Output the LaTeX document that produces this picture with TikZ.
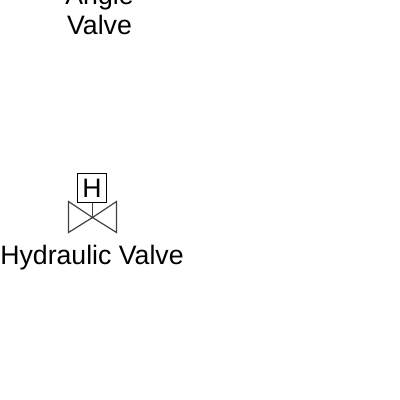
\documentclass[tikz,border=0pt]{standalone}
\usepackage{fontspec}
\setmainfont{Liberation Sans}
\tikzset{
	label text/.style = {font=\fontsize{26.67}{30}\selectfont, inner sep=0pt},
	actuator/.style = {draw, line width=1.2pt, minimum size=29.5pt, inner sep=0pt, font=\fontsize{26.67}{30}\selectfont},
	valve line/.style = {line width=1.2pt, draw=black!75, line join=miter},
}

\begin{document}
\begin{tikzpicture}[x=1pt, y=1pt]
\useasboundingbox (0,0) rectangle (400,400);

\node [label text, align=center, anchor=base] (angle) at (99.5,365) {Angle\\Valve};

\node [actuator] (hbox) at (92,212) {H};

\coordinate (centre) at (92.5,182.5);
\coordinate (lefttop) at (68.5,198.5);
\coordinate (leftbottom) at (68.5,167.5);
\coordinate (righttop) at (116.5,198.5);
\coordinate (rightbottom) at (116.5,167.5);

\draw [valve line] (centre) -- (lefttop) -- (leftbottom) -- cycle;
\draw [valve line] (centre) -- (righttop) -- (rightbottom) -- cycle;
\draw [valve line] (hbox.south -| centre) -- (centre);

\node [label text, anchor=base] (hydraulic) at (92,135.5) {Hydraulic Valve};

\end{tikzpicture}
\end{document}
